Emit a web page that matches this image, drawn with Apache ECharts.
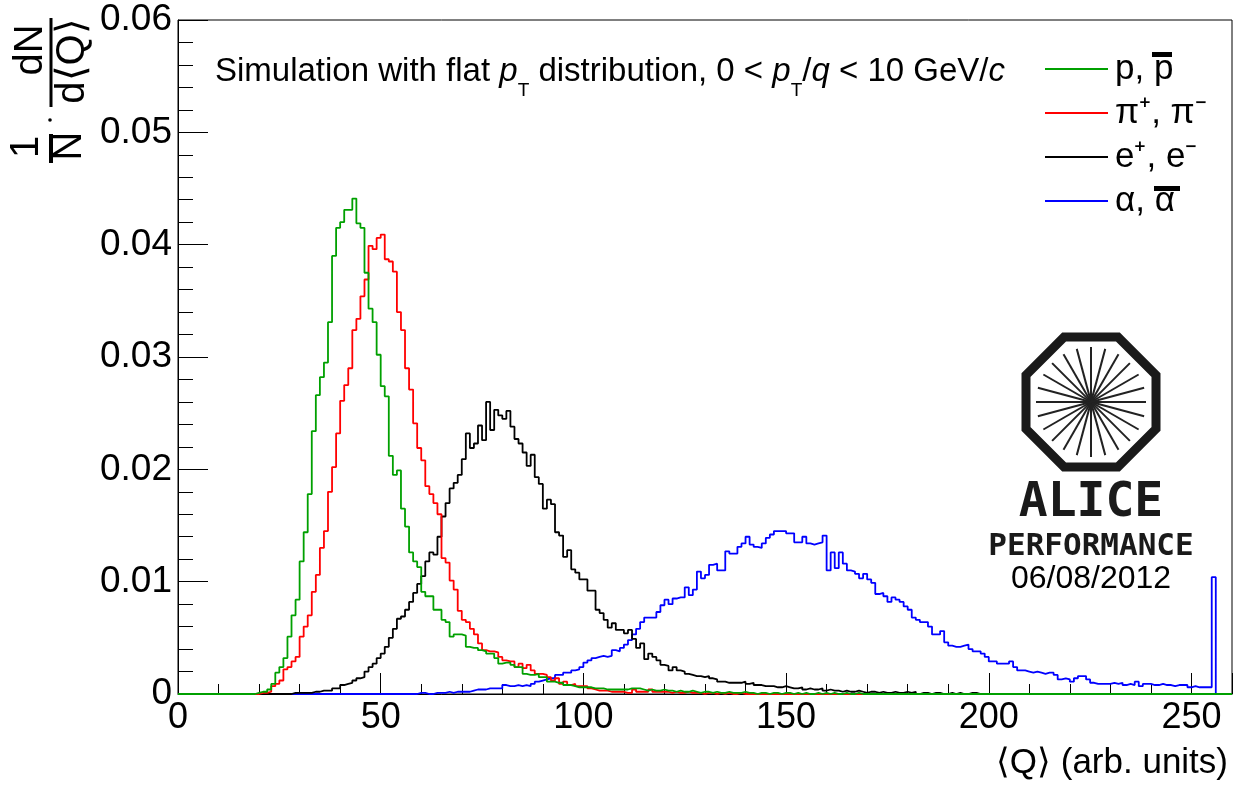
<!DOCTYPE html>
<html><head><meta charset="utf-8">
<script src="https://cdn.jsdelivr.net/npm/echarts@6/dist/echarts.min.js"></script>
<style>html,body{margin:0;padding:0;background:#fff}#chart{width:1239px;height:785px}</style>
</head><body><div id="chart"></div>
<script>
// ---- data: per-bin histogram contents (bin width 1 in <Q>), each array starts at the given bin ----
const seriesNames = ['p, p\u0304', '\u03c0\u207a, \u03c0\u207b', 'e\u207a, e\u207b', '\u03b1, \u03b1\u0304'];
const seriesColors = ['#00a000', '#ff0000', '#000000', '#0000ff'];
const xTickLabels = [0, 50, 100, 150, 200, 250];
const yTickLabels = ['0', '0.01', '0.02', '0.03', '0.04', '0.05', '0.06'];

const protonStart = 10;
const protonValues = [
  0,0,0,0,0,0,0,0,0,0.0001,
  0.0002,0.0002,0.0004,0.0009,0.0019,0.0024,0.0032,0.0051,0.0070,0.0084,
  0.0118,0.0144,0.0178,0.0234,0.0266,0.0282,0.0295,0.0331,0.0390,0.0415,
  0.0420,0.0431,0.0431,0.0441,0.0419,0.0415,0.0375,0.0343,0.0331,0.0302,
  0.0274,0.0265,0.0212,0.0195,0.0199,0.0165,0.0149,0.0126,0.0118,0.0113,
  0.0091,0.0087,0.0087,0.0075,0.0075,0.0066,0.0064,0.0051,0.0053,0.0053,
  0.0052,0.0042,0.0041,0.0041,0.0039,0.0038,0.0036,0.0036,0.0032,0.0027,
  0.0028,0.0028,0.0026,0.0024,0.0024,0.0018,0.0017,0.0017,0.0018,0.0015,
  0.0015,0.0011,0.0011,0.0010,0.0010,0.0008,0.0008,0.0007,0.0006,0.0006,
  0.0006,0.0006,0.0005,0.0005,0.0005,0.0004,0.0004,0.0004,0.0004,0.0004,
  0.0004,0.0005,0.0005,0.0005,0.0004,0.0003,0.0004,0.0003,0.0003,0.0004,
  0.0003,0.0003,0.0002,0.0003,0.0002,0.0002,0.0003,0.0002,0.0001,0.0002,
  0.0002,0.0001,0.0002,0.0001,0.0001,0.0002,0.0001,0.0001,0.0001,0.0002,
  0.0001,0.0001,0,0.0001,0.0001,0,0.0001,0.0001,0,0.0001,
  0.0001,0,0.0001,0,0.0001,0,0,0.0001,0,0.0001,
  0,0.0001,0,0,0.0001,0,0,0.0001,0,0
];

const pionStart = 20;
const pionValues = [
  0.0001,0.0001,0.0002,0.0007,0.0009,0.0012,0.0022,0.0024,0.0029,0.0033,
  0.0051,0.0060,0.0070,0.0091,0.0106,0.0130,0.0145,0.0180,0.0202,0.0232,
  0.0261,0.0275,0.0290,0.0324,0.0334,0.0354,0.0369,0.0399,0.0396,0.0406,
  0.0409,0.0387,0.0385,0.0376,0.0340,0.0324,0.0290,0.0271,0.0241,0.0219,
  0.0208,0.0185,0.0178,0.0170,0.0160,0.0121,0.0117,0.0101,0.0093,0.0074,
  0.0066,0.0064,0.0058,0.0053,0.0045,0.0039,0.0038,0.0038,0.0037,0.0033,
  0.0030,0.0029,0.0029,0.0024,0.0027,0.0023,0.0026,0.0021,0.0018,0.0018,
  0.0017,0.0015,0.0012,0.0014,0.0009,0.0011,0.0008,0.0009,0.0007,0.0007,
  0.0007,0.0005,0.0004,0.0003,0.0003,0.0003,0.0002,0.0002,0.0002,0.0002,
  0.0001,0.0001,0.0004,0.0002,0.0002,0.0002,0.0004,0.0002,0.0002,0.0002,
  0.0002,0.0001,0.0002,0.0001,0.0001,0.0002,0.0001,0.0001,0.0001,0,
  0.0001,0.0001,0,0.0001,0,0.0001,0,0,0.0001,0
];

const electronStart = 20;
const electronValues = [
  0,0,0,0,0,0,0,0,0.0001,0.0001,
  0.0001,0.0001,0.0001,0.0002,0.0002,0.0003,0.0003,0.0003,0.0005,0.0005,
  0.0008,0.0009,0.0010,0.0012,0.0014,0.0015,0.0020,0.0024,0.0027,0.0032,
  0.0036,0.0042,0.0050,0.0058,0.0067,0.0069,0.0075,0.0082,0.0090,0.0098,
  0.0105,0.0118,0.0126,0.0124,0.0140,0.0158,0.0170,0.0183,0.0188,0.0195,
  0.0209,0.0232,0.0219,0.0223,0.0239,0.0226,0.0260,0.0235,0.0253,0.0248,
  0.0245,0.0252,0.0238,0.0227,0.0223,0.0215,0.0203,0.0213,0.0193,0.0187,
  0.0165,0.0173,0.0169,0.0144,0.0141,0.0122,0.0128,0.0111,0.0108,0.0102,
  0.0102,0.0092,0.0092,0.0075,0.0072,0.0066,0.0059,0.0063,0.0057,0.0057,
  0.0054,0.0057,0.0049,0.0041,0.0045,0.0031,0.0036,0.0033,0.0030,0.0026,
  0.0025,0.0021,0.0024,0.0021,0.0020,0.0018,0.0017,0.0016,0.0016,0.0015,
  0.0016,0.0014,0.0013,0.0011,0.0011,0.0010,0.0010,0.0010,0.0010,0.0011,
  0.0009,0.0010,0.0008,0.0008,0.0007,0.0007,0.0007,0.0006,0.0006,0.0007,
  0.0006,0.0005,0.0005,0.0006,0.0004,0.0005,0.0004,0.0004,0.0005,0.0003,
  0.0004,0.0003,0.0003,0.0002,0.0003,0.0002,0.0002,0.0003,0.0002,0.0001,
  0.0002,0.0002,0.0001,0.0002,0.0001,0.0001,0.0002,0.0001,0.0001,0.0002,
  0.0001,0.0002,0,0.0001,0.0001,0,0.0001,0.0001,0,0,
  0.0001,0,0.0001,0,0,0.0001,0.0001,0,0,0
];

const alphaStart = 50;
const alphaValues = [
  0,0,0,0,0,0,0,0,0,0.0001,
  0.0001,0,0,0.0001,0.0001,0.0001,0.0002,0.0001,0.0002,0.0002,
  0.0002,0.0002,0.0003,0.0004,0.0004,0.0004,0.0005,0.0005,0.0005,0.0005,
  0.0008,0.0007,0.0007,0.0008,0.0007,0.0008,0.0007,0.0009,0.0011,0.0012,
  0.0013,0.0014,0.0014,0.0017,0.0017,0.0019,0.0019,0.0021,0.0022,0.0024,
  0.0028,0.0030,0.0032,0.0033,0.0034,0.0033,0.0034,0.0039,0.0038,0.0041,
  0.0044,0.0048,0.0053,0.0058,0.0064,0.0068,0.0068,0.0068,0.0073,0.0079,
  0.0084,0.0080,0.0085,0.0086,0.0086,0.0095,0.0088,0.0093,0.0109,0.0103,
  0.0106,0.0115,0.0116,0.0110,0.0110,0.0127,0.0125,0.0125,0.0131,0.0134,
  0.0140,0.0133,0.0131,0.0130,0.0134,0.0139,0.0142,0.0145,0.0145,0.0145,
  0.0143,0.0143,0.0135,0.0135,0.0140,0.0134,0.0133,0.0134,0.0135,0.0141,
  0.0110,0.0126,0.0112,0.0126,0.0116,0.0110,0.0109,0.0107,0.0103,0.0107,
  0.0102,0.0099,0.0089,0.0090,0.0087,0.0082,0.0086,0.0084,0.0082,0.0078,
  0.0075,0.0068,0.0066,0.0064,0.0064,0.0060,0.0053,0.0053,0.0056,0.0046,
  0.0043,0.0042,0.0042,0.0043,0.0044,0.0040,0.0038,0.0038,0.0036,0.0033,
  0.0029,0.0029,0.0027,0.0027,0.0027,0.0029,0.0024,0.0021,0.0021,0.0020,
  0.0019,0.0020,0.0019,0.0018,0.0019,0.0019,0.0017,0.0013,0.0014,0.0013,
  0.0011,0.0014,0.0016,0.0016,0.0013,0.0010,0.0009,0.0009,0.0009,0.0009,
  0.0010,0.0009,0.0010,0.0008,0.0009,0.0008,0.0011,0.0007,0.0009,0.0009,
  0.0008,0.0008,0.0009,0.0008,0.0008,0.0007,0.0008,0.0008,0.0008,0.0006,
  0.0007,0.0006,0.0006,0.0006,0.0006,0.0104
];

const nBins = 260;

// build step-histogram points [binLowEdge, content]
function histPoints(start, values) {
  const pts = [];
  for (let k = 0; k < nBins; k++) {
    const i = k - start;
    pts.push([k, (i >= 0 && i < values.length) ? values[i] : 0]);
  }
  pts.push([nBins, 0]);
  return pts;
}
const histData = [
  histPoints(protonStart, protonValues),
  histPoints(pionStart, pionValues),
  histPoints(electronStart, electronValues),
  histPoints(alphaStart, alphaValues)
];

const FONT = '"Liberation Sans", Arial, Helvetica, sans-serif';
const chart = echarts.init(document.getElementById('chart'), null, {renderer: 'canvas'});

const series = [];
// draw order: alpha, electron, pion, proton (proton on top)
[3, 2, 1, 0].forEach(function (i) {
  series.push({
    name: seriesNames[i], type: 'line', step: 'end', data: histData[i],
    showSymbol: false, symbol: 'none', animation: false, silent: true,
    lineStyle: {color: seriesColors[i], width: 1.8}, itemStyle: {color: seriesColors[i]}
  });
});

// logo geometry (decoration)
const cx = 1091, cy = 402, apo = 65;
const octo = [];
for (let i = 0; i < 8; i++) {
  const a = Math.PI / 8 + i * Math.PI / 4;
  const R = apo / Math.cos(Math.PI / 8);
  octo.push([cx + R * Math.cos(a), cy + R * Math.sin(a)]);
}
const spokes = [];
for (let i = 0; i < 12; i++) {
  const a = i * Math.PI / 12;
  spokes.push({type: 'line', silent: true,
    shape: {x1: cx - 55 * Math.cos(a), y1: cy - 55 * Math.sin(a), x2: cx + 55 * Math.cos(a), y2: cy + 55 * Math.sin(a)},
    style: {stroke: '#222', lineWidth: 2}});
}

function rtext(txt, x, y, size) {
  return {type: 'text', x: x, y: y, rotation: Math.PI / 2, silent: true,
    style: {text: txt, font: size + 'px ' + FONT, fill: '#000', align: 'center', verticalAlign: 'middle',
      textAlign: 'center', textVerticalAlign: 'middle'}};
}

const option = {
  backgroundColor: '#fff',
  animation: false,
  grid: {left: 178, right: 7, top: 20, bottom: 91, show: true, borderColor: '#000', borderWidth: 1, backgroundColor: 'transparent'},
  legend: {
    data: seriesNames, orient: 'vertical', left: 1040, top: 46, itemWidth: 63, itemHeight: 2, itemGap: 8,
    icon: 'rect', selectedMode: false,
    formatter: function (name) { return name.replace(/\u0304/g, ''); },
    textStyle: {fontFamily: FONT, fontSize: 35, color: '#000', lineHeight: 36, padding: [0, 0, 0, 2]}
  },
  xAxis: {
    type: 'value', min: 0, max: 260, interval: 50,
    name: '\u27e8Q\u27e9 (arb. units)', nameLocation: 'end', nameGap: -4,
    nameTextStyle: {fontFamily: FONT, fontSize: 35, color: '#000', align: 'right', verticalAlign: 'top', padding: [52, 0, 0, 0]},
    axisLine: {show: true, onZero: false, lineStyle: {color: '#000', width: 1}},
    axisTick: {show: true, inside: true, length: 21, lineStyle: {color: '#000', width: 1}},
    minorTick: {show: true, splitNumber: 5, length: 10, lineStyle: {color: '#000', width: 1}},
    splitLine: {show: false}, minorSplitLine: {show: false},
    axisLabel: {fontFamily: FONT, fontSize: 36, color: '#000', margin: 6,
      formatter: function (v) { return xTickLabels.indexOf(v) >= 0 ? String(v) : ''; }}
  },
  yAxis: {
    type: 'value', min: 0, max: 0.06, interval: 0.01,
    axisLine: {show: true, onZero: false, lineStyle: {color: '#000', width: 1}},
    axisTick: {show: true, inside: true, length: 30, lineStyle: {color: '#000', width: 1}},
    minorTick: {show: true, splitNumber: 5, length: 15, lineStyle: {color: '#000', width: 1}},
    splitLine: {show: false}, minorSplitLine: {show: false},
    axisLabel: {fontFamily: FONT, fontSize: 37, color: '#000', margin: 6,
      formatter: function (v) { return yTickLabels[Math.round(v * 100)]; }}
  },
  series: series,
  graphic: [
    // y-axis title: 1/N . dN/d<Q>
    rtext('dN', 31, 50, 40),
    rtext('d\u27e8Q\u27e9', 73, 61, 40),
    {type: 'line', silent: true, shape: {x1: 51, y1: 18, x2: 51, y2: 107}, style: {stroke: '#000', lineWidth: 3}},
    rtext('1', 27, 147, 40),
    rtext('N', 70, 146, 40),
    {type: 'line', silent: true, shape: {x1: 51, y1: 134, x2: 51, y2: 163}, style: {stroke: '#000', lineWidth: 4}},
    {type: 'circle', silent: true, shape: {cx: 50, cy: 120, r: 1.8}, style: {fill: '#000'}},
    // overline bars of the antiparticle symbols in the legend
    {type: 'rect', silent: true, shape: {x: 1152, y: 52, width: 20, height: 5}, style: {fill: '#000'}},
    {type: 'rect', silent: true, shape: {x: 1154, y: 186, width: 26, height: 5}, style: {fill: '#000'}},
    // annotation
    {type: 'text', x: 215, y: 72, silent: true,
      style: {
        text: '{n|Simulation with flat }{i|p}{s|T}{n| distribution, 0 < }{i|p}{s|T}{n|/}{i|q}{n| < 10 GeV/}{i|c}',
        font: '33px ' + FONT, fill: '#000', align: 'left', verticalAlign: 'middle', textAlign: 'left', textVerticalAlign: 'middle',
        rich: {
          n: {fontFamily: FONT, fontSize: 33, lineHeight: 56, color: '#000'},
          i: {fontFamily: FONT, fontSize: 33, fontStyle: 'italic', lineHeight: 56, color: '#000'},
          s: {fontFamily: FONT, fontSize: 19, lineHeight: 20, verticalAlign: 'bottom', color: '#000'}
        }
      }},
    // ALICE logo
    {type: 'polygon', silent: true, shape: {points: octo}, style: {fill: 'none', stroke: '#1a1a1a', lineWidth: 9}},
    ...spokes,
    {type: 'text', x: cx, y: 504, silent: true,
      style: {text: 'ALICE', font: 'bold 48px "DejaVu Sans Mono", monospace', fill: '#1a1a1a', align: 'center', verticalAlign: 'middle', textAlign: 'center', textVerticalAlign: 'middle'}},
    {type: 'text', x: cx, y: 547, silent: true,
      style: {text: 'PERFORMANCE', font: 'bold 31px "DejaVu Sans Mono", monospace', fill: '#1a1a1a', align: 'center', verticalAlign: 'middle', textAlign: 'center', textVerticalAlign: 'middle'}},
    {type: 'text', x: cx, y: 579, silent: true,
      style: {text: '06/08/2012', font: '32px ' + FONT, fill: '#000', align: 'center', verticalAlign: 'middle', textAlign: 'center', textVerticalAlign: 'middle'}}
  ]
};
chart.setOption(option);
</script>
</body></html>
